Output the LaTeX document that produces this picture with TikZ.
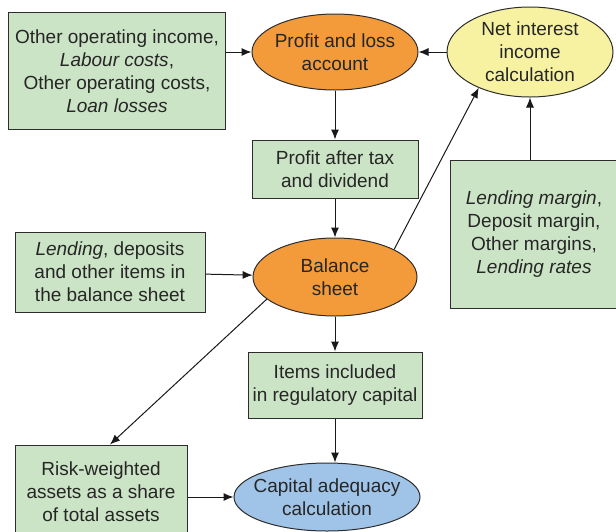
\documentclass[tikz,border=0pt]{standalone}
\usepackage{fontspec}
\setmainfont{Liberation Sans}
\usepackage{xcolor}
\usepackage{tikz}
\usetikzlibrary{shapes.geometric,positioning,arrows.meta}

\definecolor{boxgreen}{RGB}{204,228,198}
\definecolor{ellorange}{RGB}{243,154,58}
\definecolor{ellyellow}{RGB}{247,242,162}
\definecolor{ellblue}{RGB}{160,196,232}
\definecolor{edgegray}{RGB}{45,45,45}

\begin{document}
\begin{tikzpicture}[x=1pt, y=-1pt, >={Latex[length=10pt,width=8pt]}, node distance=108pt,
    font=\fontsize{19}{23}\selectfont, text=black!85]
    \tikzset{
        inputbox/.style={draw=edgegray, line width=1pt, rectangle, fill=boxgreen, align=center, inner sep=0pt},
        calcell/.style={draw=edgegray, line width=1pt, ellipse, align=center, inner xsep=-30pt, inner ysep=-20pt},
        link/.style={->, line width=1pt, draw=black!90}
    }
    \useasboundingbox (0,0) rectangle (616,531);
    % Calculations
    \node[calcell, fill=ellorange, minimum width=166pt, minimum height=76pt] (pl) at (335,52) {Profit and loss\\account};
    \node[calcell, fill=ellyellow, minimum width=166pt, minimum height=90pt] (netint) at (530,52) {Net interest\\income\\calculation};
    \node[inputbox, minimum width=166pt, minimum height=58pt, below of=pl, node distance=117pt] (profit) {Profit after tax\\and dividend};
    \node[calcell, fill=ellorange, minimum width=164pt, minimum height=78pt, below of=profit] (balance) {Balance\\sheet};
    \node[inputbox, minimum width=174pt, minimum height=66pt, below of=balance] (items) {Items included\\in regulatory capital};
    \node[calcell, fill=ellblue, minimum width=186pt, minimum height=68pt] (capital) at (327,497) {Capital adequacy\\calculation};
    % Inputs
    \node[inputbox, minimum width=217pt, minimum height=117pt] (costs) at (117,71) {Other operating income,\\\textit{Labour costs},\\Other operating costs,\\\textit{Loan losses}};
    \node[inputbox, minimum width=190pt, minimum height=80pt] (lending) at (110,272) {\textit{Lending}, deposits\\and other items in\\the balance sheet};
    \node[inputbox, minimum width=168pt, minimum height=148pt] (margins) at (534,234) {\textit{Lending margin},\\Deposit margin,\\Other margins,\\\textit{Lending rates}};
    \node[inputbox, minimum width=172pt, minimum height=94pt] (risk) at (101,492) {Risk-weighted\\assets as a share\\of total assets};

    % Connections
    \draw[link] (costs.east |- pl) -- (pl);
    \draw[link] (netint) -- (pl);
    \draw[link] (pl) -- (profit);
    \draw[link] (profit) -- (balance);
    \draw[link] (lending) -- (balance);
    \draw[link] (balance.25) -- (netint.215);
    \draw[link] (margins.north -| netint) -- (netint);
    \draw[link] (balance) -- (items);
    \draw[link] (balance.198) -- ([xshift=9pt]risk.north);
    \draw[link] (items) -- (items |- capital.north);
    \draw[link] (risk.east |- capital) -- (capital);
\end{tikzpicture}
\end{document}
